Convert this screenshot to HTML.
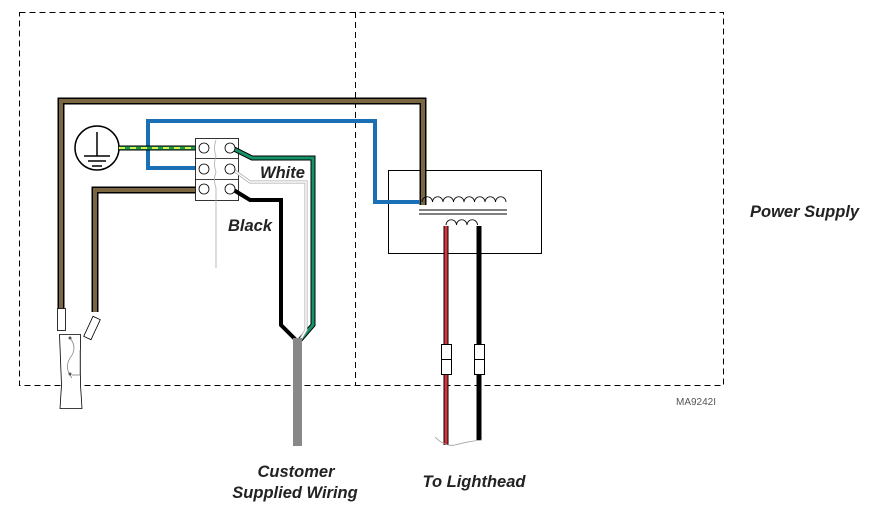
<!DOCTYPE html>
<html><head><style>
html,body{margin:0;padding:0;background:#fff;}
svg{display:block;}
text{font-family:"Liberation Sans",sans-serif;font-weight:bold;font-style:italic;fill:#222;}
</style></head><body>
<svg width="889" height="511" viewBox="0 0 889 511" xmlns="http://www.w3.org/2000/svg">
<g fill="none" stroke="#000" stroke-width="1" stroke-dasharray="6,4">
<rect x="19.5" y="12.5" width="704" height="373"/>
<line x1="355.5" y1="12" x2="355.5" y2="385"/>
</g>
<rect x="388.5" y="170.5" width="153" height="83" fill="none" stroke="#000"/>
<path d="M61 312 V101 H423 V205" fill="none" stroke="#000" stroke-width="7"/>
<path d="M61 312 V101 H423 V205" fill="none" stroke="#7a6640" stroke-width="4"/>
<path d="M95 312 V190 H200" fill="none" stroke="#000" stroke-width="7"/>
<path d="M95 312 V190 H200" fill="none" stroke="#7a6640" stroke-width="4"/>
<path d="M202 168 H148 V121 H375 V202 H420" fill="none" stroke="#1a6fb5" stroke-width="4"/>
<circle cx="97" cy="148" r="22" fill="#fff" stroke="#000" stroke-width="1.5"/>
<path d="M97 132 V156 M84 156 H110 M88 161 H106 M92 166 H102" stroke="#000" stroke-width="1.5"/>
<line x1="119" y1="148" x2="201" y2="148" stroke="#000" stroke-width="5"/>
<line x1="119" y1="148" x2="201" y2="148" stroke="#1a9a4a" stroke-width="3"/>
<line x1="119" y1="148" x2="201" y2="148" stroke="#d8f050" stroke-width="2" stroke-dasharray="6,5"/>
<rect x="195.5" y="138.5" width="43" height="62" fill="#fff" stroke="#000" stroke-width="0.8"/>
<line x1="195" y1="158.5" x2="238" y2="158.5" stroke="#000" stroke-width="0.8"/>
<line x1="195" y1="179.5" x2="238" y2="179.5" stroke="#000" stroke-width="0.8"/>
<path d="M216 140 q-3 8 0 16 q-3 8 0 16 q-3 8 0 16 V268" fill="none" stroke="#aaa" stroke-width="0.8"/>
<path d="M232 148 L252 158 H313 V325 L300 340" fill="none" stroke="#000" stroke-width="5"/>
<path d="M232 148 L252 158 H313 V325 L300 340" fill="none" stroke="#14936a" stroke-width="3"/>
<path d="M232 169 L250 182 H306 V330 L299 342" fill="none" stroke="#aaa" stroke-width="3"/>
<path d="M232 169 L250 182 H306 V330 L299 342" fill="none" stroke="#fff" stroke-width="1.5"/>
<path d="M232 189 L250 200 H281 V325 L296 340" fill="none" stroke="#000" stroke-width="4"/>
<rect x="293" y="338" width="9" height="108" fill="#888"/>
<g fill="#fff" stroke="#000" stroke-width="0.8">
<circle cx="204" cy="148" r="5"/><circle cx="204" cy="169" r="5"/><circle cx="204" cy="189" r="5"/>
<circle cx="230" cy="148" r="5"/><circle cx="230" cy="169" r="5"/><circle cx="230" cy="189" r="5"/>
</g>
<path d="M422 202 a5 5 0 0 1 10.5 0 a5 5 0 0 1 10.5 0 a5 5 0 0 1 10.5 0 a5 5 0 0 1 10.5 0 a5 5 0 0 1 10.5 0 a5 5 0 0 1 10.5 0 a5 5 0 0 1 10.5 0 a5 5 0 0 1 10.5 0" fill="none" stroke="#000" stroke-width="0.8"/>
<path d="M419 210 H507 M419 214 H507" stroke="#000" stroke-width="1"/>
<path d="M446 225 a5 5 0 0 1 10.5 0 a5 5 0 0 1 10.5 0 a5 5 0 0 1 10.5 0" fill="none" stroke="#000" stroke-width="0.8"/>
<line x1="446" y1="226" x2="446" y2="445" stroke="#000" stroke-width="5"/>
<line x1="446" y1="226" x2="446" y2="445" stroke="#d33540" stroke-width="3"/>
<line x1="479" y1="226" x2="479" y2="440" stroke="#000" stroke-width="5"/>
<path d="M435 437 q10 10 20 8 q15 -4 27 -5" fill="none" stroke="#999" stroke-width="0.8"/>
<g fill="#fff" stroke="#000" stroke-width="1">
<rect x="441.5" y="344.5" width="10" height="15"/><rect x="441.5" y="359.5" width="10" height="15"/>
<rect x="474.5" y="344.5" width="10" height="15"/><rect x="474.5" y="359.5" width="10" height="15"/>
</g>
<g fill="#fff" stroke="#000" stroke-width="0.8">
<rect x="57.5" y="308.5" width="8" height="22"/>
<rect x="88" y="317" width="8" height="22" transform="rotate(25 92 328)"/>
<path d="M59.5 334.5 H80.5 V385 L82 408.5 H60 L61.5 385 Z"/>
</g>
<path d="M70 338 q8 10 0 20 q-6 10 2 20 M80 350 V375 H72" fill="none" stroke="#777" stroke-width="0.7"/>
<circle cx="70" cy="338" r="1.5" fill="#555"/><circle cx="70" cy="374" r="1.5" fill="#555"/>
<text x="260" y="178" font-size="16.5">White</text>
<text x="228" y="231" font-size="16.5">Black</text>
<text x="750" y="217" font-size="16.5">Power Supply</text>
<text x="676" y="405" font-size="10" style="font-style:normal;font-weight:normal;fill:#555">MA9242I</text>
<text x="296" y="477" font-size="16.5" text-anchor="middle">Customer</text>
<text x="295" y="498" font-size="16.5" text-anchor="middle">Supplied Wiring</text>
<text x="474" y="487" font-size="16.5" text-anchor="middle">To Lighthead</text>
</svg>
</body></html>
